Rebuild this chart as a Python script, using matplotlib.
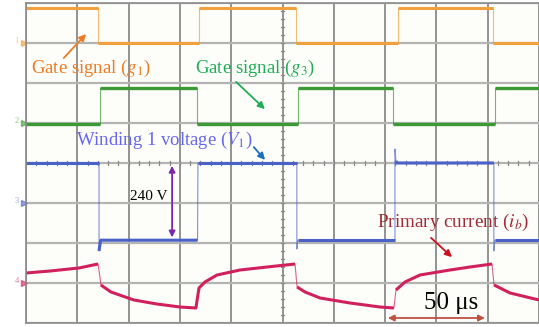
import numpy as np
import matplotlib.pyplot as plt

plt.rcParams['font.family'] = ['Liberation Serif', 'DejaVu Serif']
plt.rcParams['mathtext.fontset'] = 'stix'

# time in us (25 us/div), amplitude in divisions (8 div screen, centre = 0)
g1_t = [0, 35.1, 35.1, 84.3, 84.3, 131.6, 131.6, 181.3, 181.3, 227.6, 227.6, 250]
g1_v = [3.88, 3.88, 3.0, 3.0, 3.88, 3.88, 3.0, 3.0, 3.88, 3.88, 3.0, 3.0]

g3_t = [0, 36.1, 36.1, 83.3, 83.3, 132.6, 132.6, 178.8, 178.8, 228.6, 228.6, 250]
g3_v = [0.98, 0.98, 1.88, 1.88, 0.98, 0.98, 1.88, 1.88, 0.98, 0.98, 1.88, 1.88]

v1_t = [0, 35.6, 35.6, 36.0, 36.4, 83.6, 83.8, 84.3, 132.0, 132.0, 132.5,
        179.8, 179.8, 180.3, 180.8, 228.0, 228.0, 228.5, 250]
v1_v = [0.0, 0.0, -2.2, -2.05, -1.93, -1.93, 0.0, 0.0, 0.0, -2.15, -1.93,
        -1.93, 0.35, 0.05, 0.0, 0.0, -2.2, -1.93, -1.93]

ib_t = [0, 11.7, 25.8, 35.1, 35.9, 36.5, 41.4, 52.6, 63.8, 75.0, 82.8,
        84.3, 87.2, 93.1, 104.3, 117.5, 131.1,
        132.1, 136.0, 143.3, 157.9, 172.5, 179.3,
        180.3, 184.7, 192.0, 206.6, 216.4, 227.1,
        228.1, 235.9, 250]
ib_v = [-2.75, -2.7, -2.625, -2.525, -2.8, -3.05, -3.225, -3.425, -3.525, -3.6, -3.625,
        -3.125, -2.975, -2.8, -2.675, -2.6, -2.525,
        -3.1, -3.225, -3.375, -3.5, -3.6, -3.625,
        -3.175, -2.975, -2.8, -2.675, -2.6, -2.525,
        -3.05, -3.25, -3.425]

channel_levels = [3.0, 1.0, -1.0, -3.0]
channel_names = ['1', '2', '3', '4']
trace_colors = ['#f2a03c', '#3c9a34', '#4a62c8', '#d0205e']


def draw_trace(ax, t, v, color, lw):
    # fast edges look faint on the scope: thin line for the whole trace,
    # thick line only on the slow parts
    t = np.asarray(t, float)
    v = np.asarray(v, float)
    ax.plot(t, v, color=color, lw=0.8, alpha=0.7)
    start = 0
    for i in range(len(t) - 1):
        if abs(v[i + 1] - v[i]) > 0.2 and (t[i + 1] - t[i]) < 1.2:
            if i > start:
                ax.plot(t[start:i + 1], v[start:i + 1], color=color, lw=lw,
                        solid_capstyle='butt')
            start = i + 1
    if len(t) - 1 > start:
        ax.plot(t[start:], v[start:], color=color, lw=lw, solid_capstyle='butt')


fig = plt.figure(figsize=(5.39, 3.27), dpi=100)
fig.patch.set_facecolor('white')
ax = fig.add_axes([26 / 539, 4 / 327, 513 / 539, 320 / 327])
ax.set_facecolor('#fdfdf9')
ax.set_xlim(0, 250)
ax.set_ylim(-4, 4)

ax.set_xticks(np.arange(0, 251, 25))
ax.set_yticks(np.arange(-4, 5, 1))
ax.tick_params(length=0, labelbottom=False, labelleft=False)
ax.xaxis.grid(True, color='#767676', lw=1.1)
ax.yaxis.grid(True, color='#b4b4b4', lw=1.6)
ax.set_axisbelow(True)
for s in ax.spines.values():
    s.set_color('#8a8a8a')
    s.set_linewidth(1.2)
ax.spines['right'].set_visible(False)

# centre graticule marks
for t in np.arange(5, 250, 5):
    ax.plot([t, t], [-0.06, 0.06], color='#888888', lw=0.9)
for v in np.arange(-3.8, 4, 0.2):
    ax.plot([124.2, 125.8], [v, v], color='#888888', lw=0.9)

# traces
draw_trace(ax, g1_t, g1_v, trace_colors[0], 2.2)
draw_trace(ax, g3_t, g3_v, trace_colors[1], 2.4)
draw_trace(ax, v1_t, v1_v, trace_colors[2], 2.2)
draw_trace(ax, ib_t, ib_v, trace_colors[3], 2.2)

# channel ground markers
for lvl, name, c in zip(channel_levels, channel_names, trace_colors):
    ax.plot([-1.2], [lvl], marker='>', color=c, ms=4, alpha=0.6, clip_on=False)
    ax.text(-4.5, lvl + 0.05, name, color=c, fontsize=6, alpha=0.6,
            ha='center', va='center', clip_on=False)

# annotations
ax.text(2.4, 2.375, 'Gate signal ($g_1$)', color='#ee7a22', fontsize=13.5, va='center')
ax.annotate('', xy=(30.2, 3.275), xytext=(17.5, 2.575),
            arrowprops=dict(arrowstyle='-|>', color='#ee7a22', lw=1.3, mutation_scale=10))

ax.text(82.3, 2.375, 'Gate signal ($g_3$)', color='#1fae55', fontsize=13.5, va='center')
ax.annotate('', xy=(117.4, 1.3), xytext=(101.4, 2.075),
            arrowprops=dict(arrowstyle='-|>', color='#1fae55', lw=1.3, mutation_scale=10))

ax.text(24.4, 0.575, 'Winding 1 voltage ($V_1$)', color='#6666ee', fontsize=13.5, va='center')
ax.annotate('', xy=(117.4, 0.025), xytext=(110.1, 0.45),
            arrowprops=dict(arrowstyle='-|>', color='#1a6fc0', lw=1.3, mutation_scale=10))

ax.text(50.7, -0.825, '240 V', color='black', fontsize=11, va='center')
ax.annotate('', xy=(71.2, 0.0), xytext=(71.2, -1.93),
            arrowprops=dict(arrowstyle='<|-|>', color='#7a2aa8', lw=1.3, mutation_scale=9))

ax.text(171.0, -1.475, 'Primary current ($i_b$)', color='#a32a35', fontsize=13.8, va='center')
ax.annotate('', xy=(208.6, -2.4), xytext=(196.4, -1.825),
            arrowprops=dict(arrowstyle='-|>', color='#cc1020', lw=1.3, mutation_scale=10))

ax.text(193.9, -3.5, '50 μs', color='black', fontsize=18, va='center')
ax.annotate('', xy=(175, -3.875), xytext=(225, -3.875),
            arrowprops=dict(arrowstyle='<|-|>', color='#c05040', lw=1.3, mutation_scale=9))

fig.savefig('out.png', dpi=100)
